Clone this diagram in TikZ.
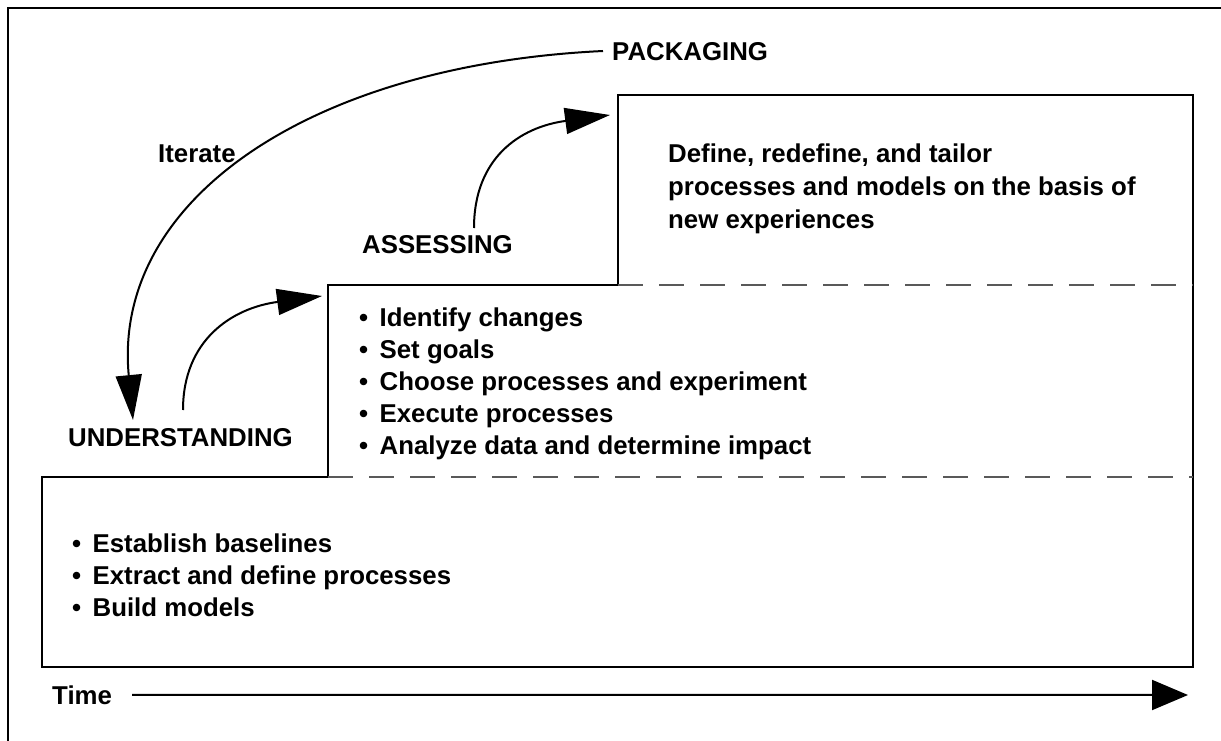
\documentclass[tikz,border=0pt]{standalone}
\usepackage{fontspec}
\setmainfont{Liberation Sans}
\usetikzlibrary{arrows.meta}
\newcommand{\bulmark}{\makebox[20.5pt][l]{•}}
\begin{document}
\begin{tikzpicture}[x=1pt,y=-1pt,
  txt/.style={font=\fontsize{25.8}{32}\selectfont\bfseries, inner sep=0pt, anchor=base west},
  frame/.style={line width=2pt},
  stair/.style={line width=2.2pt, line join=miter},
  sep/.style={line width=1.3pt, black!65, dash pattern=on 25pt off 16pt},
  arr/.style={line width=2pt, -{Triangle[length=45pt,width=26pt]}},
  timearr/.style={line width=2pt, -{Triangle[length=36pt,width=30pt]}}]
\useasboundingbox (0,0) rectangle (1221,741);
\begin{scope}
  \clip (0,0) rectangle (1221,741);
  \draw[frame] (8,8) rectangle (1240,760);
\end{scope}
% staircase
\draw[stair] (42,667) -- (42,477) -- (328,477) -- (328,285) -- (618,285)
  -- (618,95) -- (1193,95) -- (1193,667) -- cycle;
\draw[sep] (618,285) -- (1193,285);
\draw[sep] (328,477) -- (1193,477);
% labels
\node[txt] (pack) at (612,61) {PACKAGING};
\node[txt] (iter) at (158,162) {Iterate};
\node[txt] (assess) at (362,253) {ASSESSING};
\node[txt] (under) at (68,446) {UNDERSTANDING};
% top box
\foreach [count=\i] \t in {{Define, redefine, and tailor},{processes and models on the basis of},{new experiences}}
  \node[txt] (p\i) at (668,{162+33*(\i-1)}) {\t};
% middle box
\foreach [count=\i] \t in {Identify changes,Set goals,Choose processes and experiment,Execute processes,Analyze data and determine impact}
  \node[txt] (m\i) at (359,{326+32*(\i-1)}) {\bulmark\t};
% bottom box
\foreach [count=\i] \t in {Establish baselines,Extract and define processes,Build models}
  \node[txt] (b\i) at (72,{552+32*(\i-1)}) {\bulmark\t};
% time axis
\node[txt] (time) at (52,704) {Time};
\coordinate (tEnd) at (1188,695);
\draw[timearr] ([xshift=20pt]time.east) -- (tEnd);
% curved arrows
\coordinate (itS) at (603,51);
\coordinate (itE) at (133,420);
\draw[arr] (itS) .. controls (310,65) and (112,200) .. (itE);
\coordinate (uS) at (183,410);
\coordinate (uE) at (322,296);
\draw[arr] (uS) .. controls +(0,-70) and +(-90,12) .. (uE);
\coordinate (aS) at (474,228);
\coordinate (aE) at (610,115);
\draw[arr] (aS) .. controls +(0,-70) and +(-90,12) .. (aE);
\end{tikzpicture}
\end{document}
